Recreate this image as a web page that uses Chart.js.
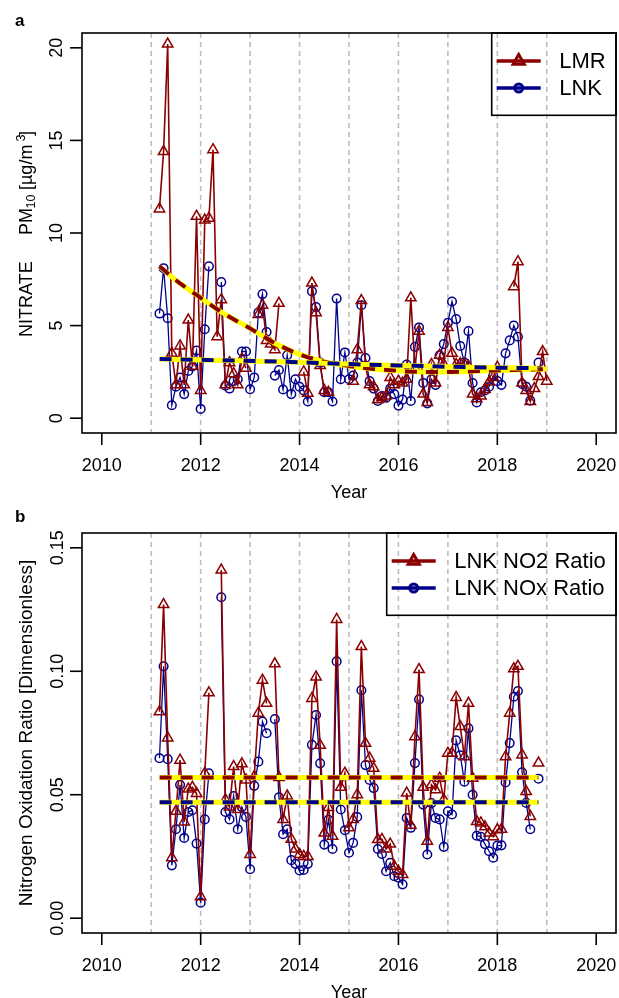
<!DOCTYPE html>
<html>
<head>
<meta charset="utf-8">
<script src="https://cdn.jsdelivr.net/npm/chart.js@4.4.0/dist/chart.umd.min.js"></script>
<style>
html, body { margin: 0; padding: 0; background: #fff; overflow: hidden; }
#wrap { position: relative; width: 619px; height: 998px; overflow: hidden; }
canvas { position: absolute; left: 0; }
</style>
</head>
<body>
<div id="wrap">
  <canvas id="chart-a" width="619" height="500" style="top:0"></canvas>
  <canvas id="chart-b" width="619" height="500" style="top:500px"></canvas>
</div>
<script>
// monthly series, first value = March 2011
const START_YEAR = 2011;
const START_MONTH = 3;

// panel a: nitrate PM10 [ug/m3], Mar 2011 .. Jan 2019
const lmrNitrate = [
  11.3, 14.4, 20.2, 3.5, 1.8, 3.9, 1.8, 5.3, 2.8, 10.9,                 // 2011
  1.5, 10.7, 10.8, 14.5, 4.4, 6.4, 1.8, 3.0, 2.4, 1.8, 3.2, 2.7,         // 2012
  null, null, 5.6, 6.1, 4.2, 4.0, 3.7, 6.2, null, null, null, null,      // 2013
  null, 2.5, 1.35, 7.3, 5.7, 2.85, 1.5, 1.4, null, null, null, null,     // 2014
  null, 2.0, 3.7, 6.35, 2.8, 1.8, 1.7, 1.0, 1.1, 1.2, 2.2, 1.8,          // 2015
  2.0, 1.9, 2.1, 6.5, 2.7, 4.7, 1.3, 0.85, 2.9, 1.9, 3.4, 2.9,           // 2016
  4.9, 3.5, 2.9, 2.95, 2.9, 2.8, 1.3, 1.05, 1.2, 1.55, 1.95, 2.2,        // 2017
  2.75, null, null, null, 7.1, 8.45, 1.9, 1.5, 0.9, 1.6, 2.25, 3.6,      // 2018
  2.0                                                                    // 2019
];
const lnkNitrate = [
  5.65, 8.1, 5.4, 0.7, 1.7, 2.2, 1.3, 2.55, 2.8, 3.65,
  0.5, 4.8, 8.2, null, null, 7.35, 1.75, 1.6, 2.0, 2.1, 3.6, 3.6,
  1.56, 2.2, 5.7, 6.7, 4.65, null, 2.3, 2.6, 1.55, 3.4, 1.3, 2.1,
  1.7, 1.5, 0.9, 6.85, 6.0, 3.0, 1.4, 1.4, 0.9, 6.46, 2.1, 3.55,
  2.1, 2.3, 3.0, 6.1, 3.25, 2.0, 1.6, 0.93, 1.2, 1.1, 1.6, 1.3,
  0.68, 1.0, 2.9, 0.93, 3.85, 4.9, 1.9, 0.8, 2.1, 1.8, 3.4, 4.0,
  5.15, 6.3, 5.35, 3.9, 3.0, 4.7, 1.9, 0.85, 1.4, 1.5, 1.7, 2.3,
  2.0, 1.8, 3.5, 4.2, 5.0, 4.4, 1.85, 1.7, 0.95, null, 3.0, null,
  null
];
// fitted trends (knots)
const lmrTrendYears = [2011.17, 2011.5, 2012, 2012.5, 2013, 2013.5, 2014, 2014.5, 2015, 2015.5, 2016, 2016.5, 2017, 2017.5, 2018, 2018.5, 2019];
const lmrTrendVals  = [8.2, 7.45, 6.5, 5.6, 4.85, 4.05, 3.45, 3.05, 2.82, 2.66, 2.56, 2.5, 2.5, 2.53, 2.58, 2.62, 2.65];
const lnkTrendYears = [2011.17, 2014, 2015, 2016, 2017, 2018, 2018.83];
const lnkTrendVals  = [3.2, 3.02, 2.92, 2.85, 2.78, 2.73, 2.7];

// panel b: nitrogen oxidation ratios, Mar 2011 .. Nov 2018
const no2Ratio = [
  0.0836, 0.127, 0.073, 0.0245, 0.0433, 0.064, 0.039, 0.0523, 0.053, 0.0505,
  0.0087, 0.0587, 0.0913, null, null, 0.141, 0.048, 0.045, 0.0614, 0.044, 0.0625, 0.056,
  0.0258, 0.0574, 0.083, 0.0964, 0.087, null, 0.103, 0.057, 0.040, 0.0495, 0.032, 0.028,
  0.0258, 0.025, 0.025, 0.089, 0.0977, 0.070, 0.0345, 0.0448, 0.0332, 0.121, 0.053, 0.0587,
  0.0366, 0.040, 0.050, 0.110, 0.0708, 0.0648, 0.0607, 0.0319, 0.0319, 0.028, 0.030, 0.021,
  0.019, 0.0177, 0.0507, 0.0376, 0.0735, 0.1007, 0.053, 0.0312, 0.054, 0.052, 0.0567, 0.048,
  0.0668, 0.0668, 0.0894, 0.0776, 0.0654, 0.087, 0.0567, 0.0392, 0.0386, 0.037, 0.0345, 0.033,
  0.0358, 0.036, 0.0654, 0.083, 0.101, 0.102, 0.0661, 0.0513, 0.0412, null, 0.0628
];
const noxRatio = [
  0.0648, 0.102, 0.0644, 0.0214, 0.036, 0.054, 0.0325, 0.043, 0.0437, 0.0302,
  0.0063, 0.040, 0.0587, null, null, 0.130, 0.043, 0.040, 0.0495, 0.036, 0.045, 0.041,
  0.0198, 0.0536, 0.0634, 0.0796, 0.0749, null, 0.0806, 0.049, 0.034, 0.036, 0.0235, 0.022,
  0.0193, 0.0195, 0.022, 0.0702, 0.0823, 0.0627, 0.0298, 0.0398, 0.028, 0.104, 0.044, 0.0356,
  0.0265, 0.0305, 0.041, 0.0923, 0.062, 0.056, 0.0527, 0.028, 0.026, 0.019, 0.0224, 0.017,
  0.0164, 0.0137, 0.0406, 0.0366, 0.0628, 0.0886, 0.046, 0.0258, 0.0466, 0.0406, 0.040, 0.0289,
  0.0433, 0.042, 0.072, 0.066, 0.0553, 0.0769, 0.050, 0.0334, 0.033, 0.030, 0.0271, 0.0245,
  0.0294, 0.0295, 0.055, 0.0709, 0.0897, 0.092, 0.0591, 0.0467, 0.036, null, 0.0565
];
const no2TrendYears = [2011.17, 2018.83];
const no2TrendVals  = [0.057, 0.057];
const noxTrendYears = [2011.17, 2018.83];
const noxTrendVals  = [0.047, 0.047];

// axes
const xTicks = [2010, 2012, 2014, 2016, 2018, 2020];
const gridYears = [2011, 2012, 2013, 2014, 2015, 2016, 2017, 2018, 2019];
const nitrateTicks = [0, 5, 10, 15, 20];
const ratioTicks = [0, 0.05, 0.10, 0.15];
const ratioTickLabels = ['0.00', '0.05', '0.10', '0.15'];

const DARKRED = '#8B0000';
const DARKBLUE = '#00008B';
const YELLOW = '#FFFF00';
const FONT = '"Liberation Sans", Arial, Helvetica, sans-serif';

// per-panel decoration, kept out of chart options (plain objects)
const PANELS = {
    'chart-a': {
        yTicks: nitrateTicks,
        yLabels: nitrateTicks.map(String),
        yLabelX: 61.7,
        letter: 'a', letterY: 26,
        yTitle: [
            { text: 'NITRATE', size: 18, at: 337, shift: 0 },
            { text: 'PM', size: 18, at: 235, shift: 0 },
            { text: '10', size: 12.5, at: 208.5, shift: 3 },
            { text: ' [\u00B5g/m', size: 18, at: 195, shift: 0 },
            { text: '3', size: 12.5, at: 141.5, shift: -7 },
            { text: ']', size: 18, at: 136, shift: 0 }
        ],
        legendW: 124.3, legendH: 82.3,
        legend: [
            { label: 'LMR', color: DARKRED, symbol: 'triangle' },
            { label: 'LNK', color: DARKBLUE, symbol: 'circle' }
        ]
    },
    'chart-b': {
        yTicks: ratioTicks,
        yLabels: ratioTickLabels,
        yLabelX: 63,
        letter: 'b', letterY: 22,
        yTitle: [
            { text: 'Nitrogen Oxidation Ratio [Dimensionless]', size: 19, centre: true, shift: 0 }
        ],
        legendW: 229.3, legendH: 82.3,
        legend: [
            { label: 'LNK NO2 Ratio', color: DARKRED, symbol: 'triangle' },
            { label: 'LNK NOx Ratio', color: DARKBLUE, symbol: 'circle' }
        ]
    }
};

function monthX(i) {
    return START_YEAR + (START_MONTH - 1 + i) / 12;
}
function series(values) {
    return values.map((v, i) => ({ x: monthX(i), y: v }));
}
function knots(xs, ys) {
    return xs.map((x, i) => ({ x, y: ys[i] }));
}

function redSeries(values, order) {
    return {
        data: series(values), showLine: true, order,
        borderColor: DARKRED, borderWidth: 1.6,
        pointStyle: 'triangle', pointRadius: 6, pointBorderWidth: 1.5,
        pointBorderColor: DARKRED, pointBackgroundColor: 'rgba(0,0,0,0)'
    };
}
function blueSeries(values, order) {
    return {
        data: series(values), showLine: true, order,
        borderColor: DARKBLUE, borderWidth: 1.3,
        pointStyle: 'circle', pointRadius: 4.3, pointBorderWidth: 1.5,
        pointBorderColor: DARKBLUE, pointBackgroundColor: 'rgba(0,0,0,0)'
    };
}
// yellow solid base + coloured dashed line on top
function trend(xs, ys, color, order) {
    const common = { data: knots(xs, ys), showLine: true, pointRadius: 0, cubicInterpolationMode: 'monotone' };
    return [
        Object.assign({}, common, { borderColor: color, borderWidth: 4, borderDash: [12, 9], order }),
        Object.assign({}, common, { borderColor: YELLOW, borderWidth: 5, order: order + 1 })
    ];
}

// base-graphics look: box, ticks, labels, dashed year lines, legend
const rStyle = {
    id: 'rStyle',
    beforeDatasetsDraw(chart) {
        const { ctx, chartArea: a, scales: { x } } = chart;
        ctx.save();
        ctx.strokeStyle = '#BEBEBE';
        ctx.lineWidth = 1.6;
        ctx.setLineDash([5, 4]);
        gridYears.forEach(yr => {
            const px = x.getPixelForValue(yr);
            ctx.beginPath();
            ctx.moveTo(px, a.top);
            ctx.lineTo(px, a.bottom);
            ctx.stroke();
        });
        ctx.restore();
    },
    afterDraw(chart) {
        const o = PANELS[chart.canvas.id];
        const { ctx, chartArea: a, scales: { x, y } } = chart;
        ctx.save();
        ctx.strokeStyle = '#000';
        ctx.fillStyle = '#000';
        ctx.lineWidth = 1.6;
        ctx.strokeRect(a.left, a.top, a.right - a.left, a.bottom - a.top);

        // x axis
        ctx.font = '18px ' + FONT;
        ctx.textAlign = 'center';
        ctx.textBaseline = 'alphabetic';
        xTicks.forEach(t => {
            const px = x.getPixelForValue(t);
            ctx.beginPath();
            ctx.moveTo(px, a.bottom);
            ctx.lineTo(px, a.bottom + 12);
            ctx.stroke();
            ctx.fillText(String(t), px, 470.5);
        });
        ctx.fillText('Year', (a.left + a.right) / 2, 497.5);

        // y axis
        o.yTicks.forEach((t, i) => {
            const py = y.getPixelForValue(t);
            ctx.beginPath();
            ctx.moveTo(a.left - 12, py);
            ctx.lineTo(a.left, py);
            ctx.stroke();
            ctx.save();
            ctx.translate(o.yLabelX, py);
            ctx.rotate(-Math.PI / 2);
            ctx.fillText(o.yLabels[i], 0, 0);
            ctx.restore();
        });

        // y title, pieces drawn along the rotated baseline
        ctx.save();
        ctx.translate(32, 0);
        ctx.rotate(-Math.PI / 2);
        o.yTitle.forEach(p => {
            ctx.font = p.size + 'px ' + FONT;
            if (p.centre) {
                ctx.textAlign = 'center';
                ctx.fillText(p.text, -(a.top + a.bottom) / 2, p.shift);
            } else {
                ctx.textAlign = 'left';
                ctx.fillText(p.text, -p.at, p.shift);
            }
        });
        ctx.restore();

        // panel letter
        ctx.font = 'bold 17px ' + FONT;
        ctx.textAlign = 'left';
        ctx.fillText(o.letter, 15, o.letterY);

        // legend (no fill, grid shows through)
        const lx = a.right - o.legendW, ly = a.top;
        ctx.lineWidth = 1.6;
        ctx.strokeRect(lx, ly, o.legendW, o.legendH);
        ctx.font = '22px ' + FONT;
        ctx.textBaseline = 'middle';
        o.legend.forEach((it, i) => {
            const ry = ly + 28 + i * 27;
            ctx.strokeStyle = it.color;
            ctx.lineWidth = 3.5;
            ctx.beginPath();
            ctx.moveTo(lx + 5, ry);
            ctx.lineTo(lx + 49, ry);
            ctx.stroke();
            ctx.lineWidth = 3;
            ctx.beginPath();
            if (it.symbol === 'triangle') {
                const r = 6.5, cx = lx + 27;
                ctx.moveTo(cx, ry - r);
                ctx.lineTo(cx + r * 0.866, ry + r * 0.5);
                ctx.lineTo(cx - r * 0.866, ry + r * 0.5);
                ctx.closePath();
            } else {
                ctx.arc(lx + 27, ry, 4, 0, Math.PI * 2);
            }
            ctx.stroke();
            ctx.fillStyle = '#000';
            ctx.fillText(it.label, lx + 67.5, ry + 1);
        });
        ctx.restore();
    }
};

function baseOptions(yMin, yMax) {
    return {
        responsive: false,
        animation: false,
        events: [],
        layout: { autoPadding: false, padding: { left: 82, top: 33, right: 3, bottom: 67 } },
        scales: {
            x: { type: 'linear', min: 2009.6, max: 2020.4, display: false },
            y: { type: 'linear', min: yMin, max: yMax, display: false }
        },
        plugins: { legend: { display: false }, tooltip: { enabled: false } }
    };
}

new Chart(document.getElementById('chart-a'), {
    type: 'scatter',
    data: {
        datasets: [
            ...trend(lnkTrendYears, lnkTrendVals, DARKBLUE, 0),
            ...trend(lmrTrendYears, lmrTrendVals, DARKRED, 2),
            redSeries(lmrNitrate, 4),
            blueSeries(lnkNitrate, 5)
        ]
    },
    options: baseOptions(-0.8, 20.8),
    plugins: [rStyle]
});

new Chart(document.getElementById('chart-b'), {
    type: 'scatter',
    data: {
        datasets: [
            ...trend(noxTrendYears, noxTrendVals, DARKBLUE, 0),
            ...trend(no2TrendYears, no2TrendVals, DARKRED, 2),
            redSeries(no2Ratio, 4),
            blueSeries(noxRatio, 5)
        ]
    },
    options: baseOptions(-0.006, 0.156),
    plugins: [rStyle]
});
</script>
</body>
</html>
